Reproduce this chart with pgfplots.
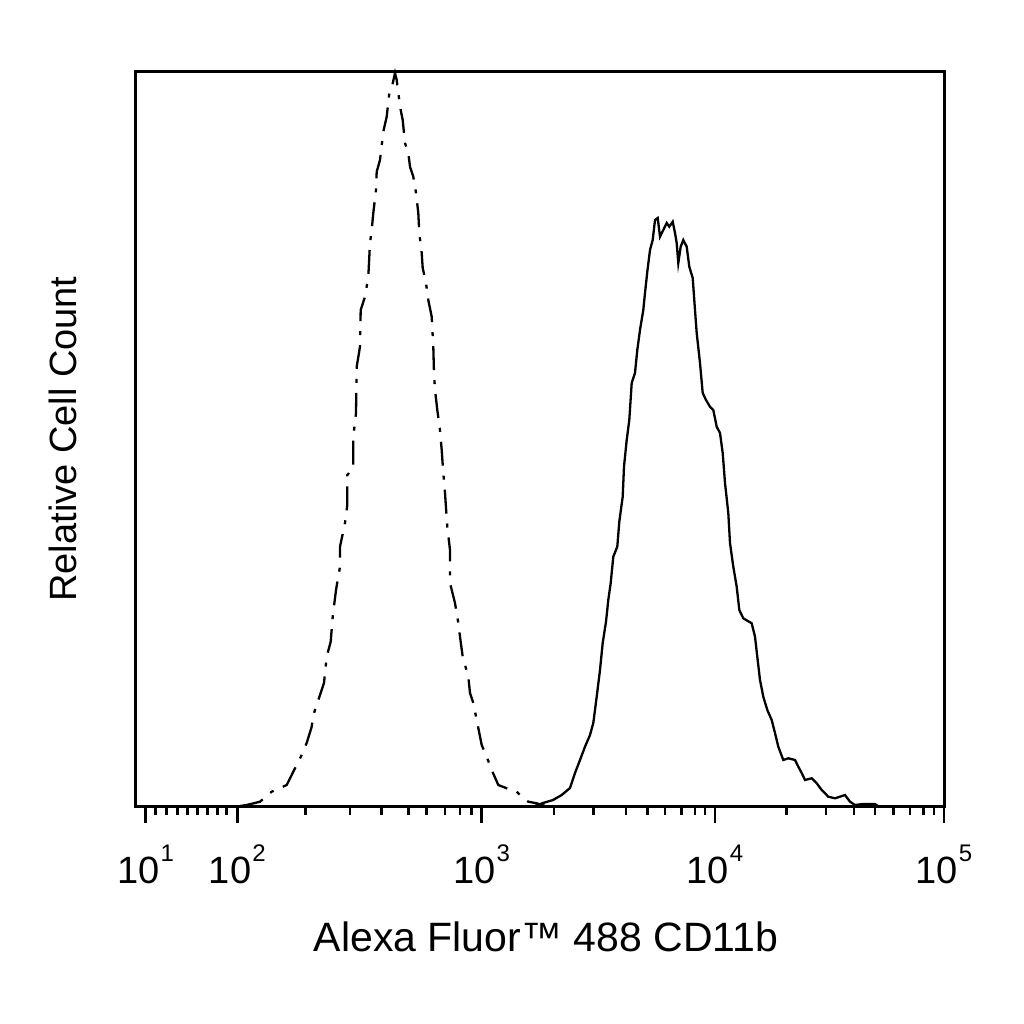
\documentclass[border=0pt]{standalone}
\usepackage{fontspec}
\setmainfont{Liberation Sans}
\usepackage{pgfplots}
\pgfplotsset{compat=1.18}

% x positions are display units of the cytometer scale (0 = axis left edge, 808 = 10^5)
\newcommand\dec[1]{10\hspace{0.5pt}\raisebox{10.8pt}{\fontsize{12}{12}\selectfont #1}}

\begin{document}
\begin{tikzpicture}
\begin{axis}[
    name=ax,
    scale only axis,
    width=404pt, height=367pt,
    xmin=0, xmax=808, ymin=0, ymax=734,
    axis line style={line width=1.5pt},
    ytick=\empty,
    xtick pos=bottom,
    tick align=outside,
    xtick={9.7,101.3,345.7,579,808},
    xticklabels={\dec{1},\dec{2},\dec{3},\dec{4},\dec{5}},
    minor xtick={19.7,30.7,41.3,51.7,61.3,71.7,81.7,90.7,
                 169.7,214,245.7,272.3,290.7,309,324,335.7,
                 418,457.3,490,511.3,529,545.7,559,569,
                 650.7,690,718,739,757.3,774,787.3,798},
    major tick length=8.5pt,
    minor tick length=4.5pt,
    tick style={black, line width=1.3pt},
    xticklabel style={font=\fontsize{19}{19}\selectfont, anchor=base, yshift=-30pt},
    clip=false,
]

% isotype control
\addplot[black, line width=1.15pt, dash pattern=on 12pt off 5pt on 2pt off 5pt] coordinates {
(104,0) (110.7,1) (124,4.3) (135.7,14.3) (150.7,21) (157.3,34.3) (165.7,51)
(170.7,63) (175.7,79.3) (177.3,91) (183,108) (188,123) (190.7,149.3)
(194.7,164.3) (196.7,189.3) (200,216) (204,239.3) (204,259.3) (209,283)
(211.3,301) (211.3,331) (217.3,338) (217.3,369.3) (220,393) (220.7,439.3)
(224,459.3) (224.7,496) (229,509.3) (232.3,529.3) (234,563) (235.7,576)
(237.3,593) (240,616) (240.7,634.3) (244,646) (247.3,674.3) (250.7,689.3)
(253.3,712.7) (255.7,718) (259,733) (260.7,726) (262.3,713) (264.7,696)
(266.7,686) (269,663) (272.3,653) (274,639.3) (277.3,629.3) (280,613)
(282.3,593) (283.3,573) (285.7,553) (286.7,538) (290,523) (292.3,506)
(295.7,489.3) (297.3,459.3) (298,433) (299,416) (301.3,396) (304,376)
(305.7,356) (307.3,333) (309,313) (311.3,279.3) (314,256) (314,223)
(319,203) (322.3,183) (324,169.3) (326.7,149.3) (332.3,129.3) (334,113)
(337.3,103) (340.7,86) (345.7,61) (350.7,49.3) (355.7,36) (362.3,21)
(370.7,17.7) (380.7,14.3) (387.3,7.7) (392.3,4.3) (400.7,2.7) (409,0)
};

% CD11b stained
\addplot[black, line width=1.15pt] coordinates {
(399,0) (407,3) (417,6) (425.7,11) (434,18) (439,33) (444,46) (449,59.3)
(454,71) (457.3,83) (460.7,109.3) (464,136) (466.7,163) (470,184.3)
(472.3,206) (474.7,223) (477.3,249.3) (481.3,259.3) (483.3,284.3)
(486.7,309.3) (488,339.3) (490.7,366) (493.3,386) (495.7,423) (499,433)
(501.3,456) (504,476) (507.3,496) (509,513) (511.3,534.3) (514,556)
(516.7,566) (519,586) (521.7,588) (524,569.3) (527.3,576) (530.7,583)
(533.3,579.3) (536.7,584.3) (539,573) (540.7,563) (542.3,543) (544.7,559.3)
(547.3,566) (550.7,559.3) (553.3,539.3) (556.7,528) (559,496) (560.7,473)
(564,443) (566.7,413) (570,406) (574,399.3) (577.3,396) (580.7,379.3)
(584,373) (586.7,353) (589,323) (592.3,293) (594,263) (597.3,239.3)
(600.7,219.3) (603.3,196) (607.3,187.7) (615.7,182.7) (619,169.3)
(621.3,149.3) (624,126) (627.3,109.3) (631.3,96) (635.7,86) (639,73)
(642.3,59.3) (647.3,46) (652.3,47.7) (659,46) (662.3,39.3) (665.7,33)
(669,26) (675.7,27.7) (680.7,22.7) (685.7,16) (692.3,9.3) (699,7.7)
(709,11) (714,4.3) (719,1) (727.3,2) (739,2) (742,0)
};
\end{axis}

\node[rotate=90, anchor=south, font=\fontsize{19}{19}\selectfont]
    at ([xshift=-26pt]ax.west) {Relative Cell Count};
\node[anchor=base, font=\fontsize{20.5}{20.5}\selectfont]
    at ([xshift=3pt, yshift=-72.9pt]ax.south) {Alexa Fluor™ 488 CD11b};

\path[use as bounding box] ([xshift=-68pt, yshift=-109pt]ax.south west)
    rectangle ([xshift=40pt, yshift=36pt]ax.north east);
\end{tikzpicture}
\end{document}
